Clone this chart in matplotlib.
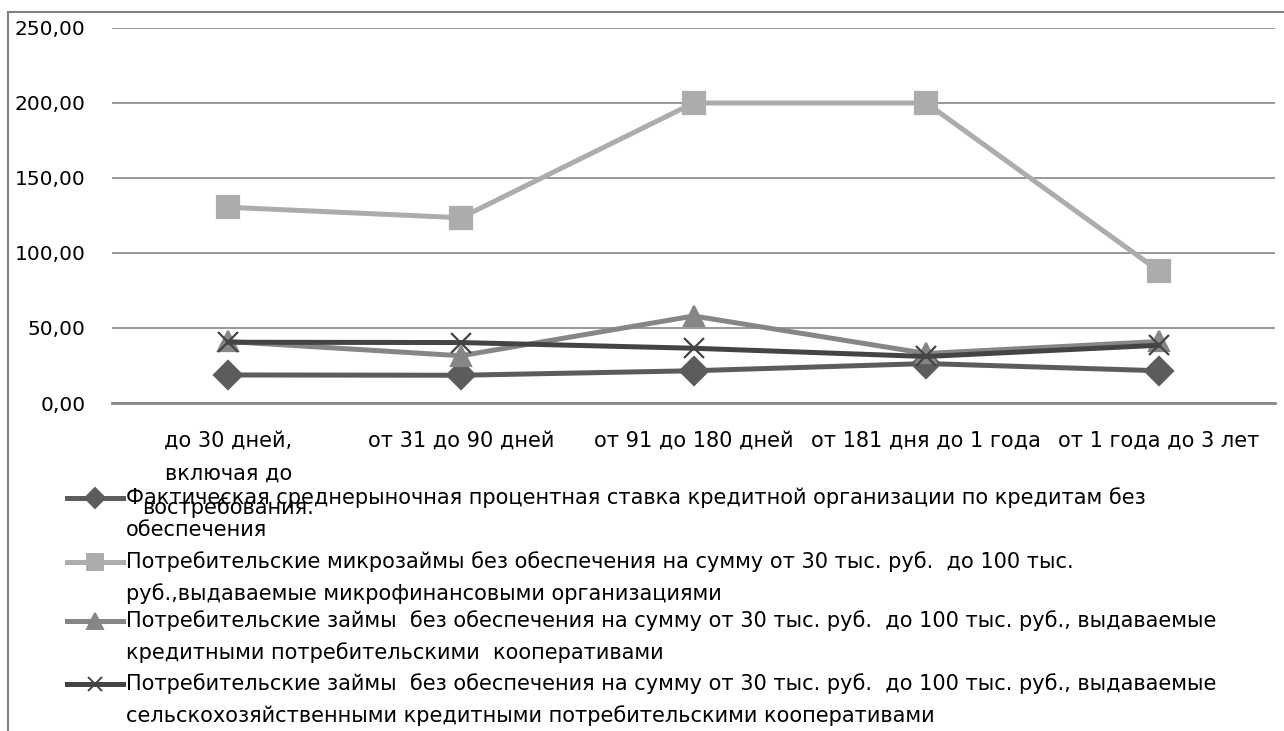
import matplotlib
matplotlib.use('Agg')
import matplotlib.pyplot as plt
from matplotlib.lines import Line2D
from matplotlib.patches import Rectangle

plt.rcParams['font.family'] = ['DejaVu Sans']

categories = ['до 30 дней,\nвключая до\nвостребования.', 'от 31 до 90 дней', 'от 91 до 180 дней',
              'от 181 дня до 1 года', 'от 1 года до 3 лет']
s_bank = [18.7, 18.5, 21.5, 26.3, 21.5]
s_mfo = [130.5, 123.5, 200.0, 200.0, 88.0]
s_kpk = [41.0, 31.5, 58.0, 33.0, 41.0]
s_skpk = [40.5, 40.3, 36.5, 31.0, 38.5]
yticks = [0, 50, 100, 150, 200, 250]

legend_lines = [
    ['Фактическая среднерыночная процентная ставка кредитной организации по кредитам без', 'обеспечения'],
    ['Потребительские микрозаймы без обеспечения на сумму от 30 тыс. руб.  до 100 тыс.',
     'руб.,выдаваемые микрофинансовыми организациями'],
    ['Потребительские займы  без обеспечения на сумму от 30 тыс. руб.  до 100 тыс. руб., выдаваемые',
     'кредитными потребительскими  кооперативами'],
    ['Потребительские займы  без обеспечения на сумму от 30 тыс. руб.  до 100 тыс. руб., выдаваемые',
     'сельскохозяйственными кредитными потребительскими кооперативами'],
]

fig = plt.figure(figsize=(12.84, 7.31), dpi=100)
ax = fig.add_axes([0.0872, 0.4487, 0.906, 0.513])

x = range(len(categories))
styles = [
    (s_bank, '#5c5c5c', 'D', 14),
    (s_mfo, '#acacac', 's', 15.5),
    (s_kpk, '#868686', '^', 15),
    (s_skpk, '#444444', 'x', 14),
]
for vals, col, mk, ms in styles:
    ax.plot(x, vals, color=col, lw=3.6, marker=mk, ms=ms, mec=col, mfc=col, mew=1.6)

ax.set_xlim(-0.5, 4.5)
ax.set_ylim(0, 250)
ax.set_yticks(yticks)
ax.yaxis.set_major_formatter(matplotlib.ticker.FuncFormatter(lambda v, p: ('%.2f' % v).replace('.', ',')))
ax.set_xticks(list(x))
ax.set_xticklabels(categories, fontsize=15, linespacing=1.8)
ax.tick_params(axis='y', length=0, labelsize=14.5, pad=19)
ax.tick_params(axis='x', length=0, pad=20)
ax.grid(axis='y', color='#888888', lw=1.2)
ax.set_axisbelow(True)
for s in ['top', 'right', 'left']:
    ax.spines[s].set_visible(False)
ax.spines['bottom'].set_color('#888888')
ax.spines['bottom'].set_linewidth(2)

# outer chart frame (only top and left visible)
fig.add_artist(Rectangle((7.5 / 1284, -0.1), 1.2, 1.1 - 12 / 731, transform=fig.transFigure,
                         fill=False, edgecolor='#808080', lw=1.5))

# legend drawn below the chart
entry_y = [498, 562, 621, 684]
for (vals, col, mk, ms), lines_txt, ey in zip(styles, legend_lines, entry_y):
    yf = 1 - ey / 731
    fig.add_artist(Line2D([67 / 1284, 123 / 1284], [yf, yf], transform=fig.transFigure,
                          color=col, lw=3.6))
    fig.add_artist(Line2D([95 / 1284], [yf], transform=fig.transFigure, color=col,
                          marker=mk, ms=ms - 4, mec=col, mfc=col, mew=1.4))
    for i, t in enumerate(lines_txt):
        fig.text(126 / 1284, 1 - (ey + 32 * i) / 731, t, fontsize=15, va='center', ha='left')

fig.savefig('out.png', dpi=100)
